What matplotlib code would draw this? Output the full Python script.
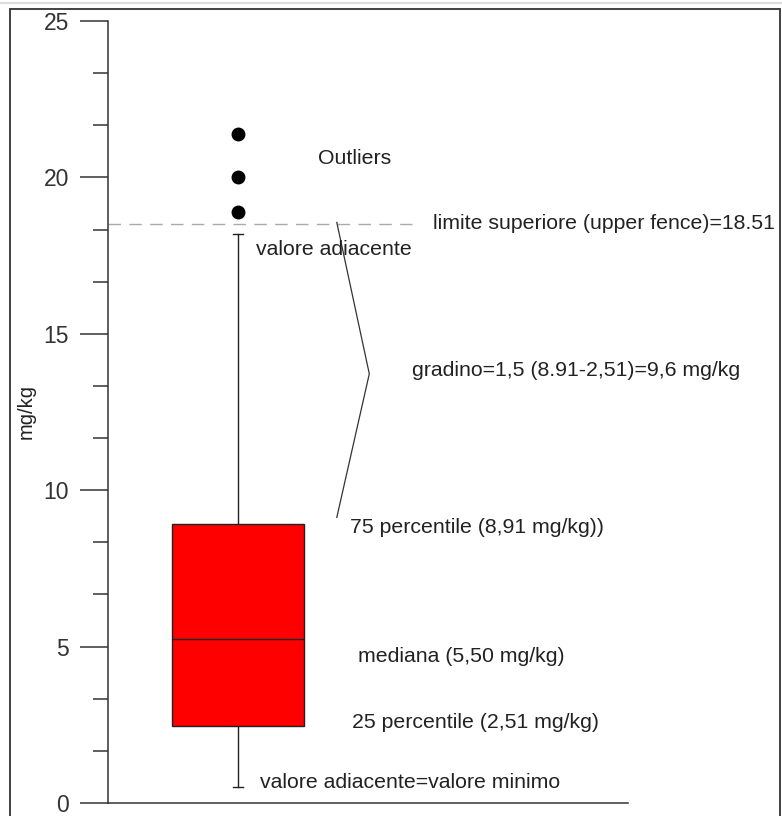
import numpy as np
import matplotlib
matplotlib.use("Agg")
import matplotlib.pyplot as plt
from matplotlib.ticker import MultipleLocator
from matplotlib.patches import Rectangle
from matplotlib.lines import Line2D

plt.rcParams['font.family'] = ['Liberation Sans', 'DejaVu Sans']

# box statistics as drawn (mg/kg)
q1 = 2.45
median = 5.25
q3 = 8.93
whisker_low = 0.52
whisker_high = 18.2
outliers = [18.9, 20.0, 21.4]
upper_fence = 18.51

labels = ["Outliers",
          "valore adiacente",
          "limite superiore (upper fence)=18.51",
          "gradino=1,5 (8.91-2,51)=9,6 mg/kg",
          "75 percentile (8,91 mg/kg))",
          "mediana (5,50 mg/kg)",
          "25 percentile (2,51 mg/kg)",
          "valore adiacente=valore minimo"]

fig = plt.figure(figsize=(7.82, 8.16), dpi=100)
ax = fig.add_axes([108/782, 13/816, 520/782, 782/816])

stats = [dict(med=median, q1=q1, q3=q3, whislo=whisker_low, whishi=whisker_high,
              fliers=outliers)]
ax.bxp(stats, positions=[1], widths=1.02, patch_artist=True, capwidths=0.08,
       boxprops=dict(facecolor='#ff0000', edgecolor='#222222', linewidth=1.0),
       medianprops=dict(color='#222222', linewidth=1.0),
       whiskerprops=dict(color='#222222', linewidth=1.0),
       capprops=dict(color='#222222', linewidth=1.0),
       flierprops=dict(marker='o', markerfacecolor='black', markeredgecolor='black',
                       markersize=9))

# upper fence
ax.plot([0, 2.34], [upper_fence, upper_fence], color='#aaaaaa', lw=1.0,
        dashes=(9, 6))
# bracket for the step
mid = (upper_fence + q3) / 2
ax.plot([1.76, 2.01, 1.76], [upper_fence + 0.05, mid, q3 + 0.2], color='#333333', lw=0.9)

txt = dict(fontsize=15.3, color='#222222', va='center', ha='left', clip_on=False)
ax.text(1.615, 20.62, labels[0], **txt)
ax.text(1.14, 17.71, labels[1], **txt)
ax.text(2.5, 18.54, labels[2], **txt)
ax.text(2.34, 13.84, labels[3], **txt)
ax.text(1.86, 8.82, labels[4], **txt)
ax.text(1.92, 4.67, labels[5], **txt)
ax.text(1.88, 2.56, labels[6], **txt)
ax.text(1.17, 0.64, labels[7], **txt)

ax.set_xlim(0, 4)
ax.set_ylim(0, 25)
ax.set_xticks([])
ax.yaxis.set_major_locator(MultipleLocator(5))
ax.yaxis.set_minor_locator(MultipleLocator(5/3))
ax.tick_params(axis='y', which='major', length=20, width=1.1, color='#333333',
               labelsize=16.5, labelcolor='#333333', pad=8)
ax.tick_params(axis='y', which='minor', length=11, width=1.1, color='#333333')
for s in ['top', 'right']:
    ax.spines[s].set_visible(False)
for s in ['left', 'bottom']:
    ax.spines[s].set_color('#333333')
    ax.spines[s].set_linewidth(1.1)
ax.set_ylabel("mg/kg", fontsize=14.5, color='#222222', labelpad=6)

# outer frame
fig.patches.append(Rectangle((10/782, -0.05), 770/782, (816-9)/816 + 0.05,
                             transform=fig.transFigure, fill=False,
                             edgecolor='#333333', lw=1.3))
fig.lines.append(Line2D([0, 1], [1 - 3/816, 1 - 3/816], transform=fig.transFigure,
                        color='#dddddd', lw=1.5))

fig.savefig("out.png", dpi=100)
